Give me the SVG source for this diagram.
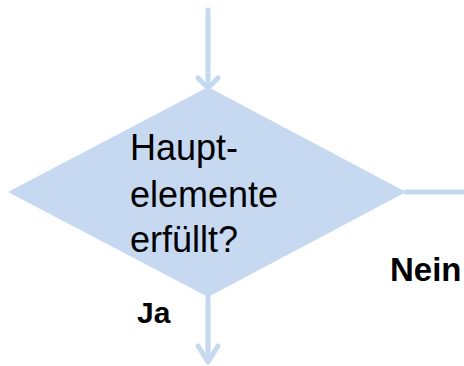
<svg xmlns="http://www.w3.org/2000/svg" width="464" height="366" viewBox="0 0 464 366">
<style>
.ln{stroke:#c6d9f1;stroke-width:5;fill:none;stroke-linecap:round;stroke-linejoin:round}
.sh{fill:#c6d9f1}
.t{font-family:"Liberation Sans",Arial,sans-serif;font-size:36px;fill:#000}
.b{font-family:"Liberation Sans",Arial,sans-serif;font-weight:bold;fill:#000}
</style>
<g id="connectors">
<path class="ln" d="M208 10 V86 M198 78 L208 88 L218 78"/>
<path class="ln" d="M406 192 H464"/>
<path class="ln" d="M208 296 V362 M198 346 L208 362 L218 346"/>
</g>
<g id="decision">
<polygon class="sh" points="208,87 406,192 208,297 8,192"/>
<text class="t" x="130" y="160">Haupt-</text>
<text class="t" x="130" y="207">elemente</text>
<text class="t" x="130" y="252">erfüllt?</text>
</g>
<g id="labels">
<text class="b" x="390" y="281" font-size="33">Nein</text>
<text class="b" x="137" y="323" font-size="30">Ja</text>
</g>
</svg>
